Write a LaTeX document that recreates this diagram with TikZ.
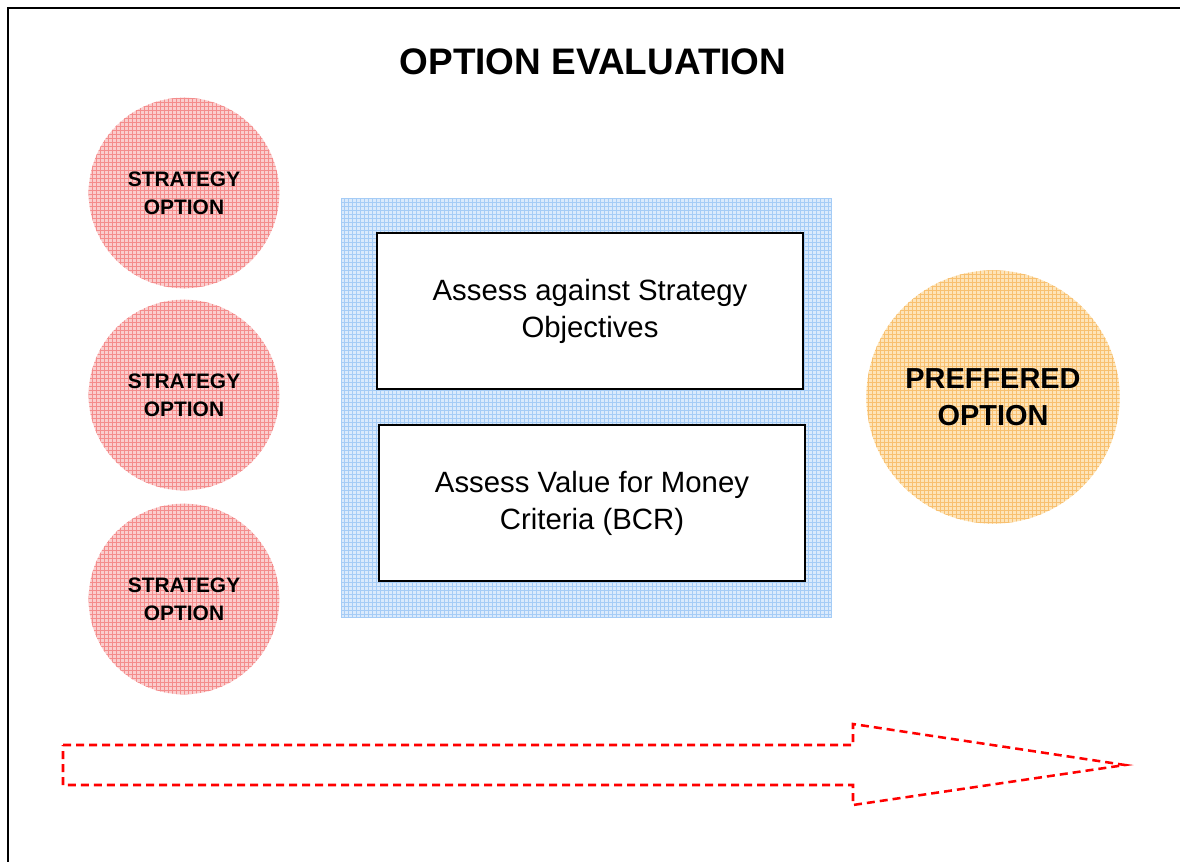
\documentclass[tikz,border=0pt]{standalone}
\usepackage{fontspec}
\setmainfont{Liberation Sans}
\usetikzlibrary{patterns}
\definecolor{stratpink}{RGB}{250,205,205}
\definecolor{stratred}{RGB}{244,140,140}
\definecolor{assessblue}{RGB}{218,234,252}
\definecolor{assessline}{RGB}{165,204,246}
\definecolor{prefcream}{RGB}{253,228,185}
\definecolor{preforange}{RGB}{248,192,112}
\tikzset{
  stratcirc/.style={circle, minimum size=143pt, inner sep=0pt, align=center,
    preaction={fill=stratpink}, pattern=grid, pattern color=stratred,
    font=\fontsize{15.7}{21}\selectfont\bfseries},
  prefcirc/.style={circle, minimum size=190pt, inner sep=0pt, align=center,
    preaction={fill=prefcream}, pattern=grid, pattern color=preforange,
    font=\fontsize{21.7}{27.75}\selectfont\bfseries},
  assessbox/.style={rectangle, draw=black, line width=1.5pt, fill=white,
    minimum width=319.5pt, minimum height=117pt, align=center,
    font=\fontsize{22}{27.75}\selectfont},
}
\begin{document}
\begin{tikzpicture}[x=0.75pt,y=0.75pt,yscale=-1,xscale=1]
		\useasboundingbox (0,0) rectangle (1180,862);
		\clip (0,0) rectangle (1180,862);
		
		% Frame
		\draw [line width=1.5pt] (8,8) rectangle (1200,900);
		
		% Title
		\node (title) at (593,62) {\fontsize{27.7}{33}\selectfont\bfseries OPTION EVALUATION};
		
		% Strategy options
		\node [stratcirc] (strat1) at (184,193) {STRATEGY\\OPTION};
		\node [stratcirc] (strat2) at (184,395) {STRATEGY\\OPTION};
		\node [stratcirc] (strat3) at (184,599) {STRATEGY\\OPTION};
		
		% Assessment panel
		\node [rectangle, draw=assessline, line width=0.75pt, minimum width=368pt, minimum height=313.5pt,
		  preaction={fill=assessblue}, pattern=grid, pattern color=assessline] (panel) at (586.5,408) {};
		\node [assessbox] (objectives) at (590,311) {Assess against Strategy\\Objectives};
		\node [assessbox] (money) at (592,503) {Assess Value for Money\\Criteria (BCR)};
		
		% Preferred option
		\node [prefcirc] (preferred) at (993,397) {PREFFERED\\OPTION};
		
		% Process arrow
		\draw [red, line width=1.9pt, dash pattern=on 6pt off 3.75pt]
		  (63,745) -- (853,745) -- (853,724) -- (1125,765) -- (853,805) -- (853,785) -- (63,785) -- cycle;
		
\end{tikzpicture}
\end{document}
